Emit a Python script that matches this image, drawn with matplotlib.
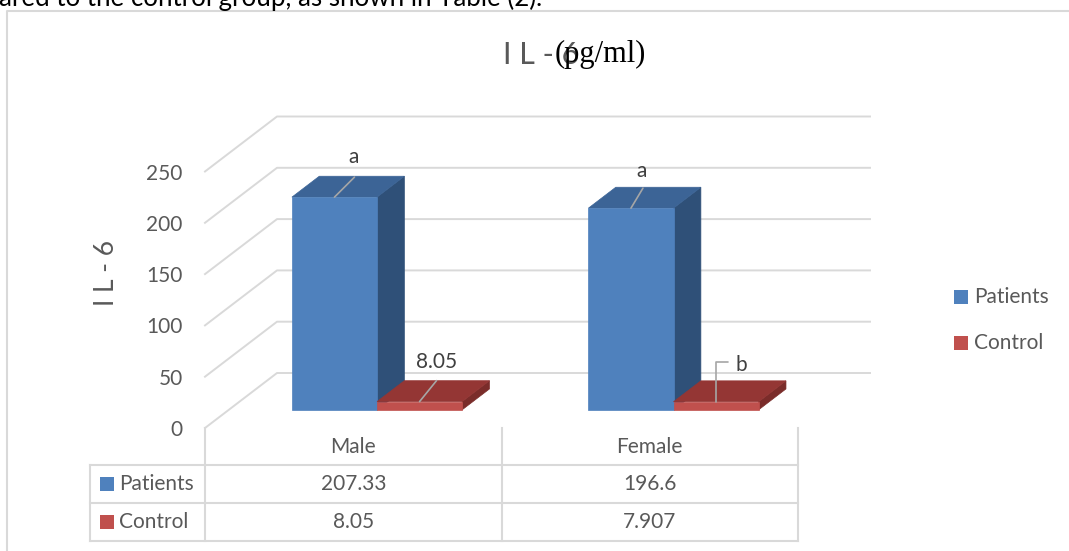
import matplotlib.pyplot as plt
from matplotlib.patches import Polygon, Rectangle
from matplotlib.lines import Line2D
from matplotlib.transforms import blended_transform_factory

plt.rcParams['font.family'] = ['Lato', 'DejaVu Sans']

# IL-6 (pg/ml) by sex
groups = ['Male', 'Female']
series = ['Patients', 'Control']
patients = [207.33, 196.6]
control = [8.05, 7.907]
notes = [['a', 'a'], ['8.05', 'b']]
yticks = [0, 50, 100, 150, 200, 250]

# front / top / side shades for the pseudo-3D columns
shades = [('#4F81BD', '#3C6496', '#2F5078'),
          ('#C0504D', '#943634', '#7A2C2A')]
grid_c = '#D9D9D9'
text_c = '#595959'
fs = 15

W, H = 1069, 551
fig = plt.figure(figsize=(W / 100, H / 100), dpi=100)


def fx(px):
    return px / W


def fy(py):
    return 1 - py / H


# front plane of the plot: x in category units, y in IL-6 units
ax = fig.add_axes([fx(205), 123 / H, 593 / W, 256.5 / H])
ax.set_xlim(-0.5, 1.5)
ax.set_ylim(0, 250)
for sp in ax.spines.values():
    sp.set_visible(False)
ax.set_xticks([])
ax.set_yticks(yticks)
ax.tick_params(axis='y', length=0, pad=16, labelsize=fs, labelcolor=text_c)
ax.patch.set_alpha(0)

DX = 72 / 296.5   # depth offset along x (category units)
DY = 55 / 1.026   # depth offset along y (value units)


def proj(x, v, d):
    return (x + d * DX, v + d * DY)


# walls: diagonal + back gridlines
for v in yticks:
    ax.plot([-0.5, -0.5 + DX, 1.5 + DX], [v, v + DY, v + DY],
            color=grid_c, lw=1.4, clip_on=False, zorder=1)

w = 0.287
d0, d1 = 0.33, 0.71
label_offsets = [[((19, 40), (20, 20)), ((11, 37), (12, 20))],
                 [((17, 40), (17, 21)), ((25, 37), (12, 40))]]

for c in range(len(groups)):
    for s, vals in enumerate([patients, control]):
        v = vals[c]
        x0 = c - w + s * w
        x1 = x0 + w
        fc, tc, sc = shades[s]
        z = 2 + c * 2 + s
        front = [proj(x0, 0, d0), proj(x1, 0, d0), proj(x1, v, d0), proj(x0, v, d0)]
        top = [proj(x0, v, d0), proj(x1, v, d0), proj(x1, v, d1), proj(x0, v, d1)]
        side = [proj(x1, 0, d0), proj(x1, v, d0), proj(x1, v, d1), proj(x1, 0, d1)]
        for pts, col in [(side, sc), (top, tc), (front, fc)]:
            ax.add_patch(Polygon(pts, closed=True, facecolor=col, edgecolor=col,
                                 lw=0.5, clip_on=False, zorder=z))
        # note label with leader line
        anchor = proj(x0 + w / 2, v, d0)
        (tx, ty), (lx, ly) = label_offsets[s][c]
        elbow = s == 1 and c == 1
        ax.annotate('', xy=anchor, xytext=(lx, ly), textcoords='offset pixels',
                    arrowprops=dict(arrowstyle='-', color='#A6A6A6', lw=1.2,
                                    shrinkA=0, shrinkB=0,
                                    connectionstyle='angle,angleA=0,angleB=90,rad=0'
                                    if elbow else 'arc3'),
                    zorder=10, annotation_clip=False)
        ax.annotate(notes[s][c], xy=anchor, xytext=(tx, ty), textcoords='offset pixels',
                    ha='center', va='center', fontsize=fs, color='#404040',
                    zorder=11, annotation_clip=False)

# data table below the plot
bt = blended_transform_factory(ax.transData, fig.transFigure)
ft = fig.transFigure
row_y = [428, 465, 503, 541]
for xb in [-0.5, 0.5, 1.5]:
    ax.add_line(Line2D([xb, xb], [fy(428), fy(541)], transform=bt,
                       color=grid_c, lw=1.5, clip_on=False))
for yy in row_y[1:]:
    fig.add_artist(Line2D([fx(90), fx(798)], [fy(yy), fy(yy)], transform=ft,
                          color=grid_c, lw=1.5))
fig.add_artist(Line2D([fx(90), fx(90)], [fy(465), fy(541)], transform=ft,
                      color=grid_c, lw=1.5))

for c, g in enumerate(groups):
    ax.text(c, fy(447), g, transform=bt, ha='center', va='center',
            fontsize=fs, color=text_c)
    for s, vals in enumerate([patients, control]):
        ax.text(c, fy(484 + 38 * s), str(vals[c]), transform=bt, ha='center',
                va='center', fontsize=fs, color=text_c)

for s, name in enumerate(series):
    yc = 484 + 38 * s
    fig.add_artist(Rectangle((fx(100), fy(yc + 7)), 14 / W, 14 / H,
                             transform=ft, facecolor=shades[s][0], edgecolor='none'))
    fig.text(fx(119), fy(yc), name, ha='left', va='center', fontsize=fs, color=text_c)

# legend on the right
for s, name in enumerate(series):
    yc = 297 + 46 * s
    fig.add_artist(Rectangle((fx(954), fy(yc + 7)), 14 / W, 14 / H,
                             transform=ft, facecolor=shades[s][0], edgecolor='none'))
    fig.text(fx(974), fy(yc), name, ha='left', va='center', fontsize=fs, color=text_c)

# axis title and chart title
fig.text(fx(107), fy(273), 'I L - 6', rotation=90, ha='center', va='center',
         fontsize=19, color=text_c)
fig.text(fx(503), fy(55), 'I L - 6', ha='left', va='center', fontsize=22, color=text_c)
fig.text(fx(555), fy(54), '(pg/ml)', ha='left', va='center', fontsize=22,
         color='black', family='Liberation Serif')

# chart frame and the line of body text above it
fig.add_artist(Line2D([fx(7), fx(7), 1.0], [0.0, fy(11), fy(11)], transform=ft,
                      color=grid_c, lw=1.5))
fig.text(fx(-1), fy(6), 'ared to the control group, as shown in Table (2).',
         ha='left', va='baseline', fontsize=18.6, color='black')

fig.savefig('out.png', dpi=100)
